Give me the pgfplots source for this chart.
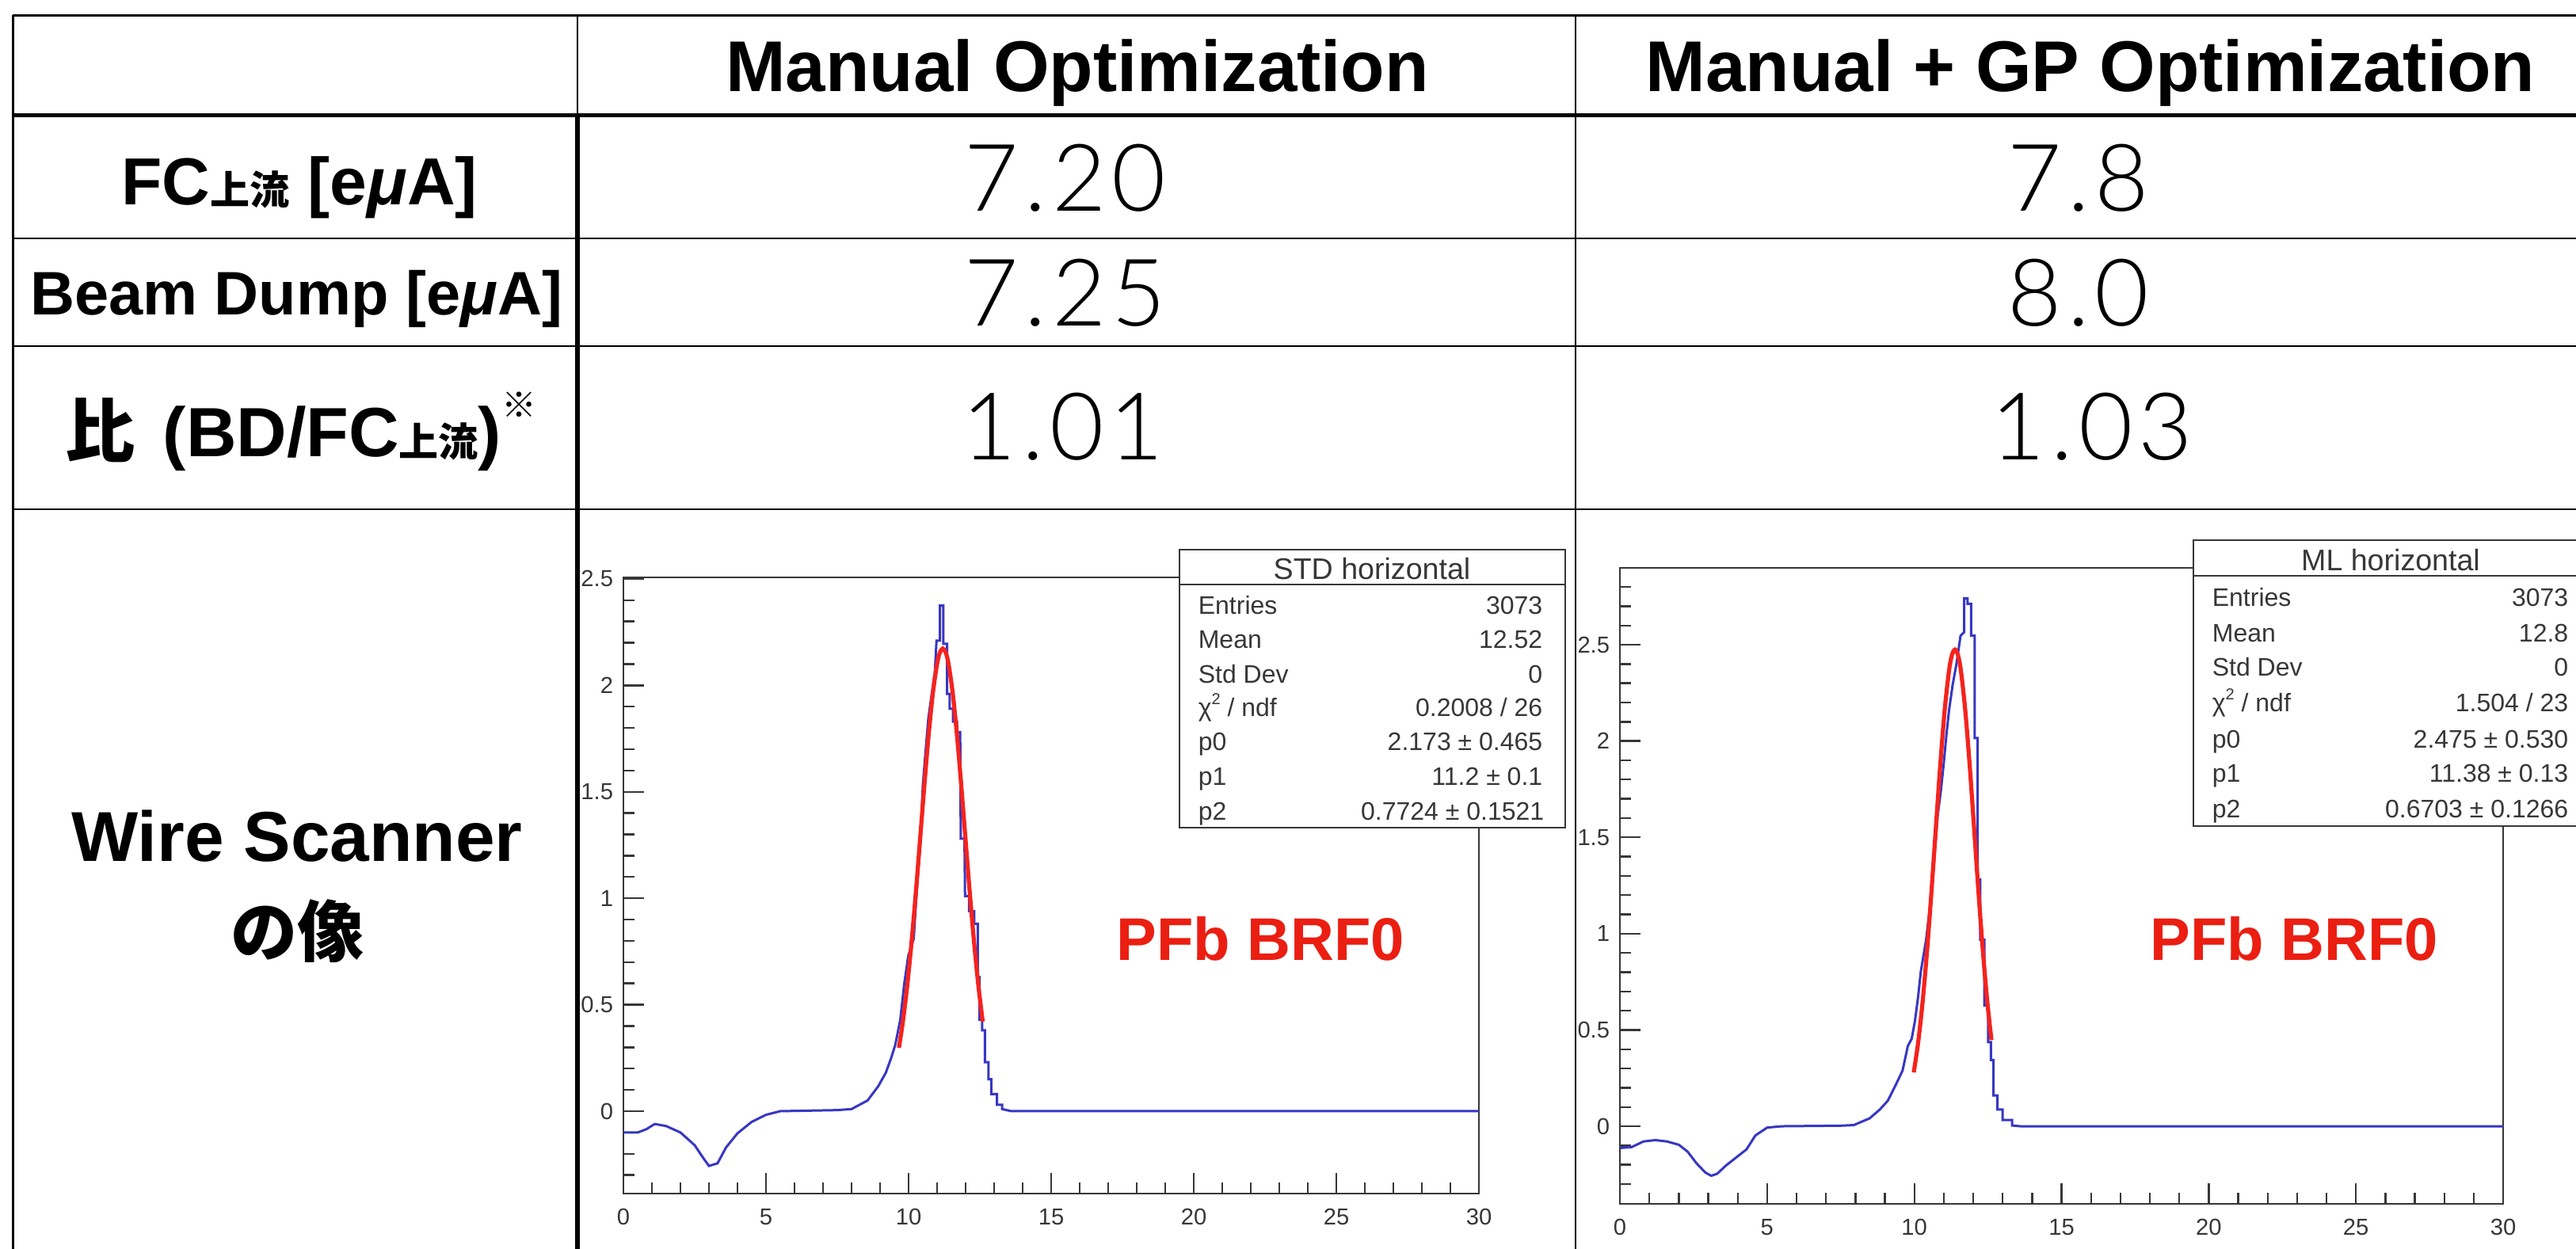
\documentclass[border=0pt]{standalone}
\usepackage{fontspec}
\usepackage{pgfplots}
\pgfplotsset{compat=1.18}
\setmainfont{Liberation Sans}
\newfontfamily\cjk{Noto Sans CJK JP}
\IfFontExistsTF{Lato Light}{\newfontfamily\numfont{Lato Light}[LetterSpace=6]}{\newfontfamily\numfont{Liberation Sans}}
\definecolor{histblue}{RGB}{55,55,195}
\definecolor{fitred}{RGB}{245,35,30}
\definecolor{pfred}{RGB}{235,30,18}
\definecolor{rootgray}{RGB}{55,55,55}
\newcommand{\up}{{\cjk\bfseries\fontsize{12.5}{14}\selectfont 上流}}
\pgfplotsset{rootaxis/.style={
  scale only axis, anchor=south west,
  xmin=0, xmax=30,
  axis line style={rootgray, line width=0.6pt},
  tick align=inside, xtick pos=bottom, ytick pos=left,
  major tick length=6.5pt, minor tick length=3.4pt,
  every tick/.style={rootgray, line width=0.6pt},
  xtick={0,5,10,15,20,25,30}, xticklabels={0,5,10,15,20,25,30},
  minor x tick num=4,
  ytick={0,0.5,1,1.5,2,2.5}, yticklabels={0,0.5,1,1.5,2,2.5},
  tick label style={font=\fontsize{7.3}{8}\selectfont, text=rootgray},
  xticklabel style={yshift=-1.2pt},
  yticklabel style={xshift=0.3pt},
  axis background/.style={fill=white},
}}
\begin{document}
\begin{tikzpicture}
\path[use as bounding box] (0,0) rectangle (813pt,-394pt);
\clip (0,0) rectangle (813pt,-394pt);
% ---------- table ----------
\begin{scope}[x=0.25pt, y=-0.25pt, every node/.style={inner sep=0pt}]
\draw[line width=0.75pt] (16,19) -- (3270,19);
\draw[line width=0.75pt] (16,19) -- (16,1590);
\draw[line width=1.25pt] (16,145) -- (3270,145);
\draw[line width=0.7pt] (16,301) -- (3270,301);
\draw[line width=0.7pt] (16,437) -- (3270,437);
\draw[line width=0.7pt] (16,643) -- (3270,643);
\draw[line width=0.7pt] (729,19) -- (729,145);
\draw[line width=1.4pt] (729,145) -- (729,1590);
\draw[line width=0.65pt] (1989,19) -- (1989,1590);
% header
\node[anchor=base, font=\bfseries\fontsize{22.7}{27}\selectfont] at (1360,115) {Manual Optimization};
\node[anchor=base, font=\bfseries\fontsize{22.7}{27}\selectfont] at (2639,115) {Manual + GP Optimization};
% row labels
\node[anchor=base, font=\bfseries\fontsize{21}{26}\selectfont] at (378,258) {FC\up{} [e{\itshape μ}A]};
\node[anchor=base, font=\bfseries\fontsize{19.4}{22}\selectfont] at (374,397) {Beam Dump [e{\itshape μ}A]};
\node[anchor=base, font=\bfseries\fontsize{22}{26}\selectfont] at (380,576) {{\cjk\bfseries 比}\hspace{0.12em} (BD/FC\up)\raisebox{0.55em}{\cjk\bfseries\fontsize{11}{12}\selectfont ※}};
\node[anchor=base, font=\bfseries\fontsize{22.3}{26}\selectfont] at (375,1087) {Wire Scanner};
\node[anchor=center, font=\cjk\bfseries\fontsize{21}{24}\selectfont] at (375,1176) {の像};
% values
\node[anchor=base, font=\numfont\fontsize{29.5}{34}\selectfont] at (1345,266) {7.20};
\node[anchor=base, font=\numfont\fontsize{29.5}{34}\selectfont] at (1345,411) {7.25};
\node[anchor=base, font=\numfont\fontsize{29.5}{34}\selectfont] at (1342,580) {1.01};
\node[anchor=base, font=\numfont\fontsize{29.5}{34}\selectfont] at (2624,266) {7.8};
\node[anchor=base, font=\numfont\fontsize{29.5}{34}\selectfont] at (2624,411) {8.0};
\node[anchor=base, font=\numfont\fontsize{29.5}{34}\selectfont] at (2641,580) {1.03};
\end{scope}
% ---------- left plot ----------
\begin{axis}[rootaxis, at={(196.75pt,-376.75pt)}, width=270pt, height=194.5pt,
  ymin=-0.387, ymax=2.507,
  minor ytick={-0.3,-0.2,-0.1,0.1,0.2,0.3,0.4,0.6,0.7,0.8,0.9,1.1,1.2,1.3,1.4,1.6,1.7,1.8,1.9,2.1,2.2,2.3,2.4}]
\addplot[histblue, line width=0.75pt] coordinates {
(0,-0.10) (0.5,-0.10) (0.8,-0.085) (1.1,-0.06) (1.5,-0.07) (2.0,-0.10) (2.5,-0.16) (2.8,-0.22) (3.0,-0.257) (3.3,-0.245) (3.6,-0.17) (4.0,-0.104) (4.5,-0.05) (5.0,-0.017) (5.5,0) (7.5,0.005) (8.0,0.01) (8.56,0.05) (8.93,0.116) (9.2,0.18) (9.39,0.25) (9.53,0.31) (9.71,0.43) (9.85,0.60) (9.99,0.73) (10.18,0.81) (10.27,1.0) (10.41,1.26) (10.5,1.53) (10.59,1.68) (10.69,1.84) (10.78,1.93) (10.92,2.06) (10.98,2.21) (11.1,2.21) (11.1,2.375) (11.22,2.375) (11.22,2.195) (11.35,2.195) (11.35,1.96) (11.44,1.96) (11.44,1.89) (11.56,1.89) (11.56,1.83) (11.7,1.83) (11.7,1.78) (11.81,1.78) (11.83,1.28) (11.96,1.28) (11.98,1.01) (12.12,1.01) (12.12,0.94) (12.3,0.94) (12.3,0.88) (12.43,0.88) (12.43,0.63) (12.49,0.63) (12.49,0.43) (12.58,0.43) (12.58,0.38) (12.68,0.38) (12.68,0.23) (12.8,0.23) (12.8,0.15) (12.9,0.15) (12.9,0.08) (13.1,0.08) (13.1,0.03) (13.28,0.03) (13.28,0.01) (13.6,0) (30,0)};
\addplot[fitred, line width=1.3pt, smooth] coordinates {
(9.66,0.2977) (9.8,0.4205) (9.95,0.5867) (10.1,0.7882) (10.25,1.0198) (10.4,1.2710) (10.55,1.5250) (10.7,1.7623) (10.85,1.9609) (11.0,2.1013) (11.1,2.1549) (11.2,2.173) (11.3,2.1549) (11.4,2.1013) (11.55,1.9609) (11.7,1.7623) (11.85,1.5250) (12.0,1.2710) (12.15,1.0198) (12.3,0.7882) (12.45,0.5867) (12.6,0.4205)};
\end{axis}
% ---------- right plot ----------
\begin{axis}[rootaxis, at={(511.25pt,-380pt)}, width=278.75pt, height=200.75pt,
  ymin=-0.403, ymax=2.899,
  minor ytick={-0.3,-0.2,-0.1,0.1,0.2,0.3,0.4,0.6,0.7,0.8,0.9,1.1,1.2,1.3,1.4,1.6,1.7,1.8,1.9,2.1,2.2,2.3,2.4,2.6,2.7,2.8}]
\addplot[histblue, line width=0.75pt] coordinates {
(0,-0.113) (0.4,-0.108) (0.8,-0.079) (1.2,-0.072) (1.6,-0.079) (2.0,-0.096) (2.3,-0.132) (2.6,-0.192) (2.9,-0.24) (3.1,-0.257) (3.3,-0.247) (3.6,-0.204) (4.0,-0.156) (4.3,-0.12) (4.6,-0.048) (5.0,-0.007) (5.5,0) (7.5,0.003) (7.94,0.006) (8.48,0.041) (8.83,0.087) (9.1,0.133) (9.37,0.215) (9.6,0.289) (9.78,0.417) (9.91,0.454) (10.02,0.546) (10.13,0.674) (10.22,0.803) (10.31,0.885) (10.4,0.968) (10.54,1.152) (10.67,1.372) (10.79,1.61) (10.9,1.74) (11.0,1.886) (11.09,2.033) (11.18,2.161) (11.3,2.29) (11.43,2.40) (11.57,2.547) (11.69,2.565) (11.69,2.74) (11.81,2.74) (11.81,2.712) (11.93,2.712) (11.93,2.547) (12.05,2.547) (12.05,2.015) (12.15,2.015) (12.15,1.28) (12.24,1.28) (12.24,0.968) (12.38,0.968) (12.38,0.628) (12.51,0.628) (12.51,0.436) (12.6,0.436) (12.6,0.344) (12.69,0.344) (12.69,0.16) (12.82,0.16) (12.82,0.087) (13.0,0.087) (13.0,0.032) (13.32,0.032) (13.32,0.004) (13.6,0) (30,0)};
\addplot[fitred, line width=1.3pt, smooth] coordinates {
(9.98,0.2795) (10.13,0.4349) (10.28,0.6438) (10.43,0.9066) (10.58,1.2140) (10.73,1.5466) (10.88,1.8741) (11.03,2.1597) (11.18,2.3673) (11.28,2.4476) (11.38,2.475) (11.48,2.4476) (11.58,2.3673) (11.73,2.1597) (11.88,1.8741) (12.03,1.5466) (12.18,1.2140) (12.33,0.9066) (12.48,0.6438) (12.62,0.4472)};
\end{axis}
% ---------- stat boxes and labels ----------
\begin{scope}[x=0.25pt, y=-0.25pt, every node/.style={inner sep=0pt, text=rootgray, font=\fontsize{8}{9}\selectfont}]
\draw[rootgray, line width=0.7pt, fill=white] (1489,694) rectangle (1976,1045);
\draw[rootgray, line width=0.7pt] (1489,738) -- (1976,738);
\node[anchor=base, font=\fontsize{9.4}{11}\selectfont] at (1732,731) {STD horizontal};
\node[anchor=base west] at (1512,775) {Entries};   \node[anchor=base east] at (1948,775) {3073};
\node[anchor=base west] at (1512,818) {Mean};      \node[anchor=base east] at (1948,818) {12.52};
\node[anchor=base west] at (1512,862) {Std Dev};   \node[anchor=base east] at (1948,862) {0};
\node[anchor=base west] at (1512,904) {χ\raisebox{0.45em}{\fontsize{5}{6}\selectfont 2} / ndf}; \node[anchor=base east] at (1948,904) {0.2008 / 26};
\node[anchor=base west] at (1512,947) {p0};        \node[anchor=base east] at (1948,947) {2.173 ± 0.465};
\node[anchor=base west] at (1512,991) {p1};        \node[anchor=base east] at (1948,991) {11.2 ± 0.1};
\node[anchor=base west] at (1512,1035) {p2};       \node[anchor=base east] at (1950,1035) {0.7724 ± 0.1521};
\draw[rootgray, line width=0.7pt, fill=white] (2769,682) rectangle (3268,1043);
\draw[rootgray, line width=0.7pt] (2769,727) -- (3268,727);
\node[anchor=base, font=\fontsize{9.4}{11}\selectfont] at (3018,720) {ML horizontal};
\node[anchor=base west] at (2792,765) {Entries};   \node[anchor=base east] at (3243,765) {3073};
\node[anchor=base west] at (2792,810) {Mean};      \node[anchor=base east] at (3243,810) {12.8};
\node[anchor=base west] at (2792,853) {Std Dev};   \node[anchor=base east] at (3243,853) {0};
\node[anchor=base west] at (2792,898) {χ\raisebox{0.45em}{\fontsize{5}{6}\selectfont 2} / ndf}; \node[anchor=base east] at (3243,898) {1.504 / 23};
\node[anchor=base west] at (2792,944) {p0};        \node[anchor=base east] at (3243,944) {2.475 ± 0.530};
\node[anchor=base west] at (2792,987) {p1};        \node[anchor=base east] at (3243,987) {11.38 ± 0.13};
\node[anchor=base west] at (2792,1032) {p2};       \node[anchor=base east] at (3243,1032) {0.6703 ± 0.1266};
\node[anchor=base west, text=pfred, font=\bfseries\fontsize{19}{22}\selectfont] at (1409,1212) {PFb BRF0};
\node[anchor=base west, text=pfred, font=\bfseries\fontsize{19}{22}\selectfont] at (2714,1212) {PFb BRF0};
\end{scope}
\end{tikzpicture}
\end{document}
